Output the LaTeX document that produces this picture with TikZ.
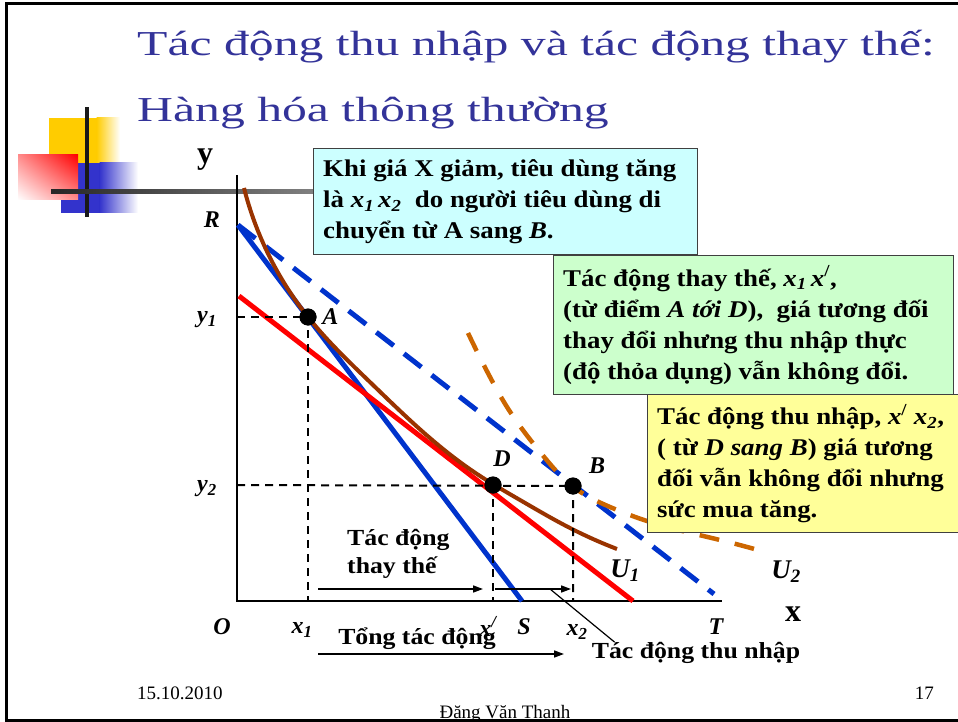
\documentclass[tikz,border=0pt]{standalone}
\usepackage{fontspec}
\setmainfont{Liberation Serif}
\newfontfamily\titlefont[FakeStretch=1.42]{Liberation Serif}
\newfontfamily\boxfont[FakeStretch=1.12]{Liberation Serif}
\usetikzlibrary{arrows.meta,positioning,shadings}
\usetikzlibrary{hobby, decorations.markings}
\definecolor{colorTitle}{HTML}{333399}
\definecolor{colorBudget}{HTML}{0033CC}
\definecolor{colorRed}{HTML}{FF0000}
\definecolor{colorBrown}{HTML}{993300}
\definecolor{colorOrange}{HTML}{CC6600}
\definecolor{colorCyan}{HTML}{CCFFFF}
\definecolor{colorGreen}{HTML}{CCFFCC}
\definecolor{colorYellow}{HTML}{FFFF99}
\definecolor{colorSquareY}{HTML}{FFCC00}
\definecolor{colorSquareB}{HTML}{3333CC}
\def\colorBudget{colorBudget}
\def\colorBrown{colorBrown}
\def\colorOrange{colorOrange}
\newcommand{\xsub}[2]{\textit{#1}\textsubscript{\textit{#2}}}
\newcommand{\xprime}{\textit{x}\textsuperscript{/}}

\begin{document}
\begin{tikzpicture}[x=1pt, y=-1pt, use Hobby shortcut,
	infobox/.style={draw=black!75, line width=1.2pt, anchor=north west, inner sep=0pt},
	infotext/.style={anchor=west, align=left, inner sep=0pt, font=\boxfont\bfseries\fontsize{24}{31}\selectfont},
	axlabel/.style={inner sep=0pt, font=\bfseries\itshape\fontsize{24}{26}\selectfont},
	dot/.style={circle, fill=black, inner sep=0pt, minimum size=17pt},
	guide/.style={dash pattern=on 8pt off 6pt, line width=2pt},
	effect/.style={-{Triangle[length=10pt,width=7pt]}, line width=1.6pt},
	bottomlabel/.style={inner sep=0pt, align=left, font=\boxfont\bfseries\fontsize{23}{28}\selectfont}]

	\useasboundingbox (0,0) rectangle (958,722);
	\draw[line width=3pt] (962,4) -- (6,4) -- (6,720) -- (962,720);

	% Carres de decoration
	\fill[colorSquareY] (49,118) rectangle (97,163);
	\shade[left color=colorSquareY, right color=white] (96.5,118) rectangle (120,163);
	\fill[colorSquareB] (61,163) rectangle (100,213);
	\shade[left color=colorSquareB, right color=white] (99.5,163) rectangle (138,213);
	\shade[upper right=colorRed, lower left=white, upper left=colorRed!45!white, lower right=colorRed!45!white] (18,155) rectangle (78,200);
	\fill[black!90] (85,107) rectangle (89,217);
	\shade[left color=black!85, right color=black!50] (51,190) rectangle (313,194);

	% Titre
	\node[anchor=base west, inner sep=0pt, colorTitle, font=\titlefont\fontsize{35}{66}\selectfont, align=left] (title) at (137,122)
	{Tác động thu nhập và tác động thay thế:\\Hàng hóa thông thường};

	% Axes
	\coordinate (O) at (237,601);
	\coordinate (ytop) at (237,175);
	\coordinate (xend) at (722,601);
	\draw[line width=2.6pt] (ytop) -- (O) -- (xend);

	% Droites de budget
	\coordinate (R) at (238,225);
	\coordinate (S) at (522,601);
	\coordinate (T) at (714,594);
	\coordinate (redtop) at (239,296);
	\coordinate (redend) at (633,601);
	\draw[\colorBudget, line width=5pt] (R) -- (S);
	\draw[\colorBudget, line width=5pt, dash pattern=on 22pt off 13pt] (R) -- (T);
	\draw[colorRed, line width=5pt] (redtop) -- (redend);

	% Courbes d'indifference
	\draw[\colorBrown, line width=4pt] (244,188) .. (308,317) .. (373,385) .. (423,432) .. (477,474) .. (520,500) .. (570,528) .. (617,549);
	\draw[\colorOrange, line width=4.5pt, dash pattern=on 20pt off 16pt] (468,333) .. (490,377) .. (507,407) .. (545,458) .. (572,486) .. (610,507) .. (650,522) .. (720,540) .. (765,552);

	% Points
	\coordinate (y1) at (237,317);
	\coordinate (y2) at (237,485);
	\coordinate (x1) at (308,601);
	\coordinate (xp) at (493,601);
	\coordinate (x2) at (573,601);
	\node[dot] (A) at (308,317) {};
	\node[dot] (D) at (493,485) {};
	\node[dot] (B) at (573,486) {};
	\draw[guide] (y1) -- (A.center) -- (x1);
	\draw[guide] (y2) -- (B.center) -- (x2);
	\draw[guide] (D.center) -- (xp);
	\node[dot] at (A) {};
	\node[dot] at (D) {};
	\node[dot] at (B) {};

	% Etiquettes
	\node[inner sep=0pt, font=\bfseries\fontsize{32}{32}\selectfont] (ylab) at (205,160) {y};
	\node[inner sep=0pt, font=\bfseries\fontsize{32}{32}\selectfont] (xlab) at (793,614) {x};
	\node[axlabel] (Rlab) at (212,220) {R};
	\node[axlabel] (y1lab) at (207,320) {\xsub{y}{1}};
	\node[axlabel] (y2lab) at (207,489) {\xsub{y}{2}};
	\node[axlabel] (Olab) at (222,627) {O};
	\node[axlabel] (x1lab) at (302,630) {\xsub{x}{1}};
	\node[axlabel] (xplab) at (488,626) {\xprime};
	\node[axlabel] (Slab) at (524,627) {S};
	\node[axlabel] (x2lab) at (577,632) {\xsub{x}{2}};
	\node[axlabel] (Tlab) at (716,627) {T};
	\node[axlabel, right=8pt of A.south east, anchor=south west, yshift=-2pt] (Alab) {A};
	\node[axlabel] (Dlab) at (502,459) {D};
	\node[axlabel] (Blab) at (597,466) {B};
	\node[axlabel, font=\bfseries\itshape\fontsize{27}{27}\selectfont] (U1lab) at (625,571) {\xsub{U}{1}};
	\node[axlabel, font=\bfseries\itshape\fontsize{27}{27}\selectfont] (U2lab) at (786,572) {\xsub{U}{2}};

	% Encadres
	\node[infobox, fill=colorCyan, minimum width=384pt, minimum height=106pt] (khiBox) at (313,148) {};
	\node[infotext, right=10pt of khiBox.west] (khiText)
	{Khi giá X giảm, tiêu dùng tăng\\là \xsub{x}{1}\,\xsub{x}{2}\ \ do người tiêu dùng di\\chuyển từ A sang \textit{B}.};
	\node[infobox, fill=colorGreen, minimum width=400pt, minimum height=139pt] (subBox) at (553,255) {};
	\node[infotext, right=10pt of subBox.west] (subText)
	{Tác động thay thế, \xsub{x}{1}\,\xprime,\\(từ điểm \textit{A tới D}),\ \ giá tương đối\\thay đổi nhưng thu nhập thực\\(độ thỏa dụng) vẫn không đổi.};
	\node[infobox, fill=colorYellow, minimum width=320pt, minimum height=138pt] (incBox) at (647,394) {};
	\node[infotext, right=10pt of incBox.west] (incText)
	{Tác động thu nhập, \xprime\ \xsub{x}{2},\\( từ \textit{D sang B}) giá tương\\đối vẫn không đổi nhưng\\sức mua tăng.};

	% Fleches des effets
	\coordinate (subStart) at (318,589);
	\coordinate (subEnd) at (483,589);
	\coordinate (incStart) at (495,589);
	\coordinate (incEnd) at (571,589);
	\coordinate (totStart) at (318,654);
	\coordinate (totEnd) at (564,654);
	\coordinate (incMid) at (550,589);
	\draw[effect] (subStart) -- (subEnd);
	\draw[effect] (incStart) -- (incEnd);
	\draw[effect] (totStart) -- (totEnd);
	\node[bottomlabel, anchor=west] (subLab) at (347,554) {Tác động\\thay thế};
	\node[bottomlabel] (totLab) at (417,639) {Tổng tác động};
	\node[bottomlabel] (incLab) at (696,653) {Tác động thu nhập};
	\draw[line width=1.2pt] (incMid) -- ([xshift=23pt]incLab.north west);

	% Pied de page
	\node[inner sep=0pt, anchor=base west, font=\fontsize{19}{19}\selectfont] (date) at (137,699) {15.10.2010};
	\node[inner sep=0pt, anchor=base east, font=\fontsize{19}{19}\selectfont] (page) at (934,699) {17};
	\node[inner sep=0pt, anchor=base, font=\fontsize{19}{19}\selectfont] (author) at (505,718) {Đặng Văn Thanh};
\end{tikzpicture}
\end{document}
